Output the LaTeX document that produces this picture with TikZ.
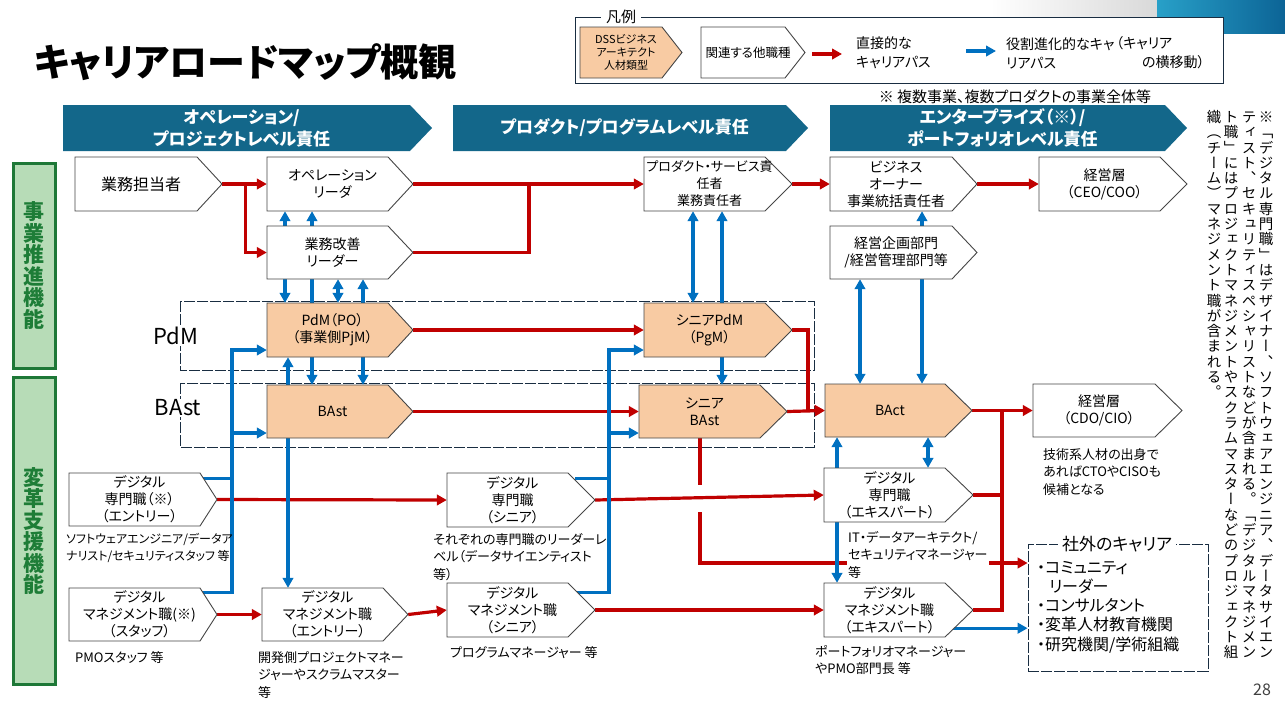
\documentclass[tikz,border=0pt]{standalone}
\usepackage{fontspec}
\setmainfont{Noto Sans CJK JP}[RawFeature=+palt]
\newfontfamily\vjp{Noto Sans CJK JP}[RawFeature=+vert]
\usetikzlibrary{arrows.meta,calc}
\definecolor{hdr}{RGB}{19,103,138}
\definecolor{corange}{RGB}{248,203,163}
\definecolor{cred}{RGB}{192,0,0}
\definecolor{cblue}{RGB}{0,112,192}
\definecolor{gborder}{RGB}{30,120,55}
\definecolor{gfill}{RGB}{183,220,183}
\definecolor{gtext}{RGB}{30,125,55}
\definecolor{ncol}{RGB}{70,70,70}
\definecolor{dcol}{RGB}{25,45,65}
\definecolor{gblueA}{RGB}{40,160,200}
\definecolor{gblueB}{RGB}{12,100,150}
\pgfdeclarelayer{bg}
\pgfsetlayers{bg,main}
\tikzset{tipA/.tip={Triangle[length=10pt,width=10.5pt]}}
\def\tateloop#1{\ifx#1\relax\else\hbox to 15.3pt{\hss\vrule height 12.2pt depth 3.1pt width 0pt\relax#1\hss}\expandafter\tateloop\fi}
\def\tate#1{\vbox{\offinterlineskip\tateloop#1\relax}}
% name, left, top, shoulder, tip, bottom, shape style, text style, text
\newcommand\pn[9]{%
  \path[#7] (#2,#3) -- (#4,#3) -- (#5,{(#3+#6)/2}) -- (#4,#6) -- (#2,#6) -- cycle;
  \node[inner sep=0pt,minimum width={(#5-#2)*1pt},minimum height={(#6-#3)*1pt}] (#1) at ({(#2+#5)/2},{(#3+#6)/2}) {};
  \node[#8] (#1t) at ({(#2+#4)/2+5},{(#3+#6)/2}) {#9};
}
\begin{document}
\begin{tikzpicture}[x=1pt,y=-1pt,
  pw/.style={draw=ncol,line width=0.9pt,fill=white},
  po/.style={draw=ncol,line width=0.9pt,fill=corange},
  ph/.style={fill=hdr},
  nt/.style={align=center,inner sep=0pt,font=\fontsize{14}{17}\selectfont},
  nts/.style={align=center,inner sep=0pt,font=\fontsize{13}{17}\selectfont},
  ntb/.style={align=center,inner sep=0pt,font=\fontsize{16}{19}\selectfont},
  ht/.style={align=center,inner sep=0pt,text=white,font=\bfseries\fontsize{17}{22}\selectfont},
  captxt/.style={anchor=north west,align=left,inner sep=1pt,font=\fontsize{13}{17.5}\selectfont},
  rl/.style={draw=cred,line width=3.2pt},
  bl/.style={draw=cblue,line width=3.2pt},
  ra/.style={rl,-tipA},
  ba/.style={bl,-tipA},
  bd/.style={bl,tipA-tipA},
  dbox/.style={draw=dcol,line width=0.8pt,dash pattern=on 11pt off 2pt},
  band/.style={draw=gborder,line width=3pt,fill=gfill,text=gtext,align=center,inner sep=0pt,font=\bfseries\fontsize{21}{21.5}\selectfont},
  lgtxt/.style={anchor=west,align=left,inner sep=0pt,font=\fontsize{14}{19}\selectfont},
]
\begin{pgfonlayer}{bg}
\fill[white] (0,0) rectangle (1285,705);
\shade[left color=white,right color=black!15] (990,0) rectangle (1158,33);
\shade[left color=gblueA,right color=gblueB] (1157,0) rectangle (1285,33);
\draw[dbox] (180,301) rectangle (814,370);
\draw[dbox] (180,383) rectangle (814,447);
\end{pgfonlayer}
\useasboundingbox (0,0) rectangle (1285,705);

% title
\node[anchor=west,inner sep=0pt,font=\bfseries\fontsize{38}{38}\selectfont] (title) at (34,62) {キャリアロードマップ概観};

% legend
\node[draw=dcol,line width=0.9pt,fill=white,minimum width=648pt,minimum height=66pt,inner sep=0pt] (leg) at (899,50) {};
\node[fill=white,inner xsep=5pt,inner ysep=0pt,font=\fontsize{15}{15}\selectfont] (legt) at (621,17) {凡例};
\pn{lgA}{580}{27}{662}{682}{78}{po}{align=center,inner sep=0pt,font=\fontsize{11}{13}\selectfont}{DSSビジネス\\アーキテクト\\人材類型}
\pn{lgB}{701}{27}{785}{805}{78}{pw}{align=center,inner sep=0pt,font=\fontsize{12.5}{15}\selectfont}{関連する他職種}
\coordinate (lrA) at (812,54);
\coordinate (lrB) at (842,54);
\draw[ra] (lrA) -- (lrB);
\node[lgtxt] (lgt1) at (856,53) {直接的な\\キャリアパス};
\coordinate (lbA) at (966,51);
\coordinate (lbB) at (996,51);
\draw[ba] (lbA) -- (lbB);
\node[lgtxt] (lgt2) at (1006,53) {役割進化的なキャ\\リアパス};
\node[lgtxt] (lgt3) at (1116,53) {（キャリア\\\hspace*{26pt}の横移動）};
\node[inner sep=0pt,font=\fontsize{15}{15}\selectfont] (note) at (1015,97) {※ 複数事業、複数プロダクトの事業全体等};

% headers
\pn{hA}{63}{105}{410}{432}{151}{ph}{ht}{オペレーション/\\プロジェクトレベル責任}
\pn{hB}{453}{105}{786}{808}{151}{ph}{ht}{プロダクト/プログラムレベル責任}
\pn{hC}{830}{105}{1165}{1187}{151}{ph}{ht}{エンタープライズ（※）/\\ポートフォリオレベル責任}

% side bands
\node[band,minimum width=42pt,minimum height=205pt] (bandA) at (34,265.5) {事\\業\\推\\進\\機\\能};
\node[band,minimum width=42pt,minimum height=307pt] (bandB) at (34,531) {変\\革\\支\\援\\機\\能};

% row labels
\node[fill=white,inner sep=1pt,font=\fontsize{22}{22}\selectfont] (lpdm) at (176,336) {PdM};
\node[fill=white,inner sep=1pt,font=\fontsize{22}{22}\selectfont] (lbast) at (178,408) {BAst};

% role nodes
\pn{gyomu}{75}{157}{197}{222}{211}{pw}{ntb}{業務担当者}
\pn{ops}{267}{157}{388}{413}{211}{pw}{nt}{オペレーション\\リーダ}
\pn{imp}{267}{226}{388}{413}{279}{pw}{nt}{業務改善\\リーダー}
\pn{pdm}{267}{303}{388}{413}{357}{po}{nt}{PdM（PO）\\（事業側PjM）}
\pn{bast}{267}{385}{388}{413}{438}{po}{nt}{BAst}
\pn{prod}{644}{157}{765}{792}{211}{pw}{nts}{プロダクト・サービス責\\任者\\業務責任者}
\pn{spdm}{644}{303}{765}{792}{357}{po}{nt}{シニアPdM\\（PgM）}
\pn{sbast}{639}{385}{760}{787}{438}{po}{nt}{シニア\\BAst}
\pn{biz}{830}{157}{952}{977}{211}{pw}{nt}{ビジネス\\オーナー\\事業統括責任者}
\pn{ceo}{1039}{157}{1160}{1187}{211}{pw}{nt}{経営層\\（CEO/COO）}
\pn{kikaku}{830}{226}{952}{977}{279}{pw}{nt}{経営企画部門\\/経営管理部門等}
\pn{bact}{825}{384}{945}{972}{437}{po}{nt}{BAct}
\pn{cdo}{1033}{384}{1155}{1182}{437}{pw}{nt}{経営層\\（CDO/CIO）}
\pn{dse}{69}{473}{200}{217}{526}{pw}{nt}{デジタル\\専門職（※）\\（エントリー）}
\pn{dms}{69}{588}{200}{217}{641}{pw}{nt}{デジタル\\マネジメント職(※)\\（スタッフ）}
\pn{dme}{262}{588}{383}{408}{641}{pw}{nt}{デジタル\\マネジメント職\\（エントリー）}
\pn{dss}{447}{473}{568}{595}{527}{pw}{nt}{デジタル\\専門職\\（シニア）}
\pn{dmsen}{447}{583}{568}{595}{637}{pw}{nt}{デジタル\\マネジメント職\\（シニア）}
\pn{dsexp}{824}{468}{945}{973}{522}{pw}{nt}{デジタル\\専門職\\（エキスパート）}
\pn{dmexp}{824}{583}{945}{973}{637}{pw}{nt}{デジタル\\マネジメント職\\（エキスパート）}

% captions
\node[captxt,font=\fontsize{12}{17.5}\selectfont] (capA) at (65,532) {ソフトウェアエンジニア/データア\\ナリスト/セキュリティスタッフ 等};
\node[captxt] (capB) at (74,650) {PMOスタッフ 等};
\node[captxt] (capC) at (257,650) {開発側プロジェクトマネー\\ジャーやスクラムマスター\\等};
\node[captxt] (capD) at (432,532) {それぞれの専門職のリーダーレ\\ベル（データサイエンティスト\\等）};
\node[captxt] (capE) at (449,645) {プログラムマネージャー 等};
\node[captxt,fill=white] (capF) at (847,530) {IT・データアーキテクト/\\セキュリティマネージャー\\等};
\node[captxt] (capG) at (814,644) {ポートフォリオマネージャー\\やPMO部門長 等};
\node[captxt] (capH) at (1042,447) {技術系人材の出身で\\あればCTOやCISOも\\候補となる};

% external careers
\node[dbox,minimum width=180pt,minimum height=127pt,inner sep=0pt] (ext) at (1118,607.5) {};
\node[fill=white,inner xsep=4pt,inner ysep=1pt,font=\fontsize{17}{17}\selectfont] (extt) at (1117,544) {社外のキャリア};
\node[anchor=north west,align=left,inner sep=0pt,font=\fontsize{16}{19.2}\selectfont] (exti) at (1037,561) {・コミュニティ\\\hspace*{0.75em}リーダー\\・コンサルタント\\・変革人材教育機関\\・研究機関/学術組織};

% vertical note
\node[anchor=north,inner sep=0pt,font=\vjp\fontsize{14.5}{15.3}\selectfont] (vA) at (1266,110) {\tate{※「デジタル専門職」はデザイナー、ソフトウェアエンジニア、データサイエン}};
\node[anchor=north,inner sep=0pt,font=\vjp\fontsize{14.5}{15.3}\selectfont] (vB) at (1249,110) {\tate{ティスト、セキュリティスペシャリストなどが含まれる。「デジタルマネジメン}};
\node[anchor=north,inner sep=0pt,font=\vjp\fontsize{14.5}{15.3}\selectfont] (vC) at (1231,110) {\tate{ト職」にはプロジェクトマネジメントやスクラムマスターなどのプロジェクト組}};
\node[anchor=north,inner sep=0pt,font=\vjp\fontsize{14.5}{15.3}\selectfont] (vD) at (1214,110) {\tate{織（チーム）マネジメント職が含まれる。}};

\node[inner sep=0pt,text=black!75,font=\fontsize{16}{16}\selectfont] (pg) at (1262,690) {28};

% connectors
\begin{pgfonlayer}{bg}
\coordinate (cA) at (285,0);
\coordinate (cB) at (312,0);
\coordinate (cC) at (338,0);
\coordinate (cD) at (363,0);
\coordinate (cE) at (288,0);
\coordinate (cF) at (693,0);
\coordinate (cG) at (722,0);
\coordinate (cH) at (922,0);
\coordinate (cI) at (860,0);
\coordinate (cJ) at (837,0);
\coordinate (cK) at (928,0);
\coordinate (jb) at (529,0);
\coordinate (jc) at (808,0);
\coordinate (jd) at (1002,0);
\coordinate (gA) at (700,485);
\coordinate (gB) at (700,512);
\coordinate (gC) at (700,563);
\coordinate (busA) at (232,350);
\coordinate (busB) at (232,433);
\coordinate (busC) at (609,350);
\coordinate (busD) at (609,433);
% red paths
\draw[ra] (gyomu.east) -- (ops.west);
\draw[ra] ($(gyomu.east)+(23,0)$) |- (imp.west);
\draw[ra] (ops.east) -- (prod.west);
\draw[rl] (imp.east) -| (ops.east -| jb);
\draw[ra] (prod.east) -- (biz.west);
\draw[ra] (biz.east) -- (ceo.west);
\draw[ra] (pdm.east) -- (spdm.west);
\draw[ra] (bast.east) -- (sbast.west);
\draw[ra] (spdm.east) -| (bact.west -| jc) -- (bact.west);
\draw[ra] (sbast.east) -- (bact.west);
\draw[ra] (bact.east) -- (cdo.west);
\draw[rl] (dmexp.east) -| (bact.east -| jd);
\draw[rl] (dsexp.east) -- (dsexp.east -| jd);
\draw[rl] (sbast.south -| gA) -- (gA);
\draw[ra] (gB) -- (gC) -- (gC -| ext.west);
\draw[ra] (dse.east) -- (dss.west);
\draw[ra] (dss.east) -- (dsexp.west);
\draw[ra] (dms.east) -- (dme.west);
\draw[ra] (dme.east) -- (dmsen.west);
\draw[ra] (dmsen.east) -- (dmexp.west);
% blue paths
\draw[ba] (imp.north -| cA) -- (ops.south -| cA);
\draw[ba] (imp.north -| cB) -- (ops.south -| cB);
\draw[ba] (imp.south -| cA) -- (pdm.north -| cA);
\draw[ba] (imp.south -| cB) -- (bast.north -| cB);
\draw[bd] (imp.south -| cC) -- (pdm.north -| cC);
\draw[bd] (bast.north -| cD) -- (imp.south -| cD);
\draw[bd] (pdm.south -| cE) -- (dme.north -| cE);
\draw[ba] ($(dms.north east)+(-20,5)$) -| (busA) -- (busA -| pdm.west);
\draw[ba] (busB) -- (busB -| bast.west);
\path ($(dse.north east)+(-20,6)$) coordinate (sA);
\draw[bl] (sA) -- (sA -| busA);
\draw[ba] ($(dmsen.north east)+(-20,10)$) -| (busC) -- (busC -| spdm.west);
\draw[ba] (busD) -- (busD -| sbast.west);
\path ($(dss.north east)+(-20,6)$) coordinate (sB);
\draw[bl] (sB) -- (sB -| busC);
\draw[bd] (spdm.north -| cF) -- (prod.south -| cF);
\draw[bd] (sbast.north -| cG) -- (prod.south -| cG);
\draw[bd] (bact.north -| cH) -- (biz.south -| cH);
\draw[bd] (kikaku.south -| cI) -- (bact.north -| cI);
\draw[bd] (bact.south -| cJ) -- (dmexp.north -| cJ);
\draw[bd] (bact.south -| cK) -- (dsexp.north -| cK);
\path ($(dmexp.south east)+(-25,-9)$) coordinate (sC);
\draw[ba] (sC) -- (sC -| ext.west);
\end{pgfonlayer}
\end{tikzpicture}
\end{document}
